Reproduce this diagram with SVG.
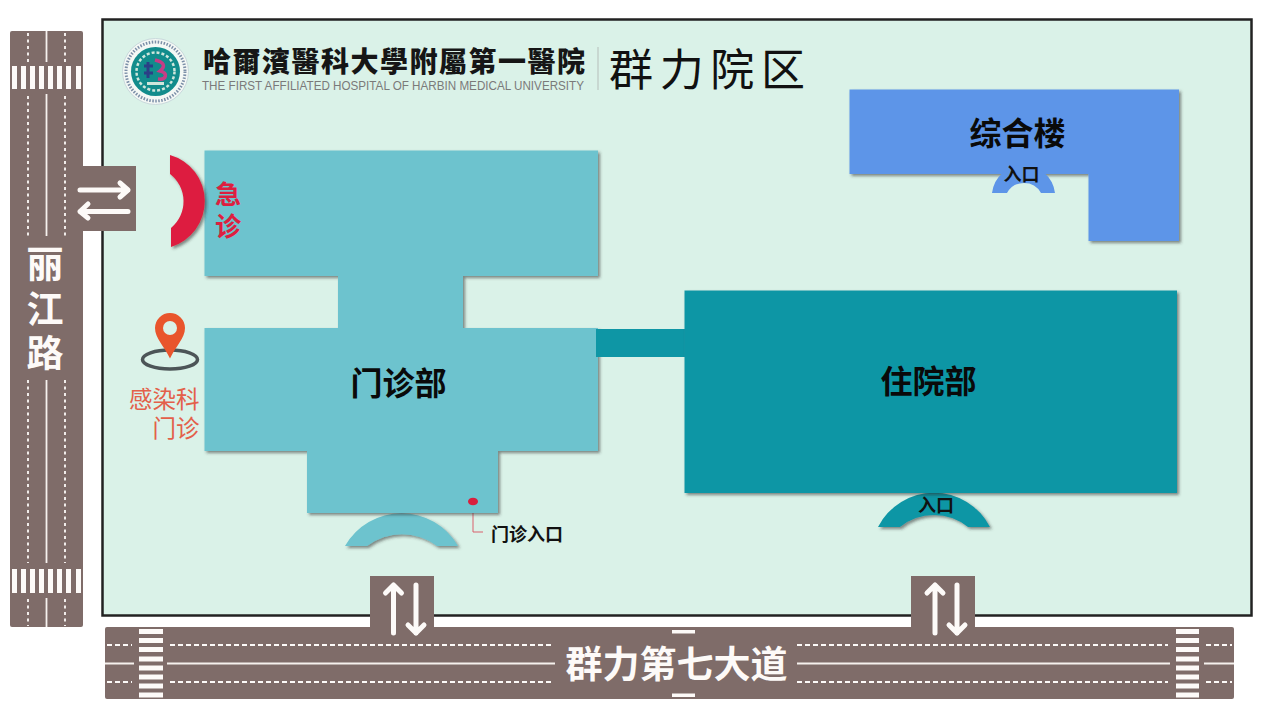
<svg xmlns="http://www.w3.org/2000/svg" width="1265" height="708" viewBox="0 0 1265 708">
<style>
.road{fill:#7F6C69}
.cw{fill:#FDFAF8}
.ctr{stroke:#F6F1EE;stroke-width:1.800;fill:none}
.dash{stroke:#FDFAF8;stroke-width:1.800;stroke-dasharray:5 3;fill:none}
.dot{stroke:#FDFAF8;stroke-width:1.800;stroke-dasharray:3 3.500;fill:none}
.arrow{stroke:#FDFAF8;stroke-width:5;fill:none;stroke-linecap:round;stroke-linejoin:round}
.t{font-family:"Liberation Sans","Noto Sans CJK SC",sans-serif;font-weight:700;text-anchor:middle}
.sc{font-family:"Noto Sans CJK SC",sans-serif}
.b1{fill:#6DC3CE}
.b2{fill:#0E96A5}
.b3{fill:#5D95E8}
.sh{filter:url(#shadow)}
</style>
<defs>
<filter id="shadow" x="-10%" y="-10%" width="120%" height="125%"><feDropShadow dx="2" dy="2" stdDeviation="1.600" flood-color="#333" flood-opacity="0.550"/></filter>
<marker id="open" markerWidth="10" markerHeight="10" refX="5" refY="1" orient="auto-start-reverse" markerUnits="userSpaceOnUse" viewBox="0 0 10 10"><path d="M1 7L5 1L9 7" fill="none" stroke="#D9606C" stroke-width="1"/></marker>
</defs>
<rect width="1265" height="708" fill="#fff"/>
<rect id="site" x="102.500" y="19.500" width="1149" height="596" fill="#DAF2E8" stroke="#222" stroke-width="2.500"/>

<g id="road-lijiang">
<rect class="road" x="10" y="31" width="73" height="596" rx="2"/>
<rect class="road" x="80" y="166" width="56" height="65"/>
<g class="ctr"><path d="M46.500 31V62M46.500 94V236M46.500 380V563M46.500 598V627"/></g>
<g class="dot"><path d="M28 33V62M65 33V62M28 96V236M65 96V236M28 380V563M65 380V563M28 599V626M65 599V626"/></g>
<g class="cw"><rect x="12" y="66" width="5" height="23"/><rect x="21" y="66" width="5" height="23"/><rect x="30" y="66" width="5" height="23"/><rect x="39" y="66" width="5" height="23"/><rect x="48" y="66" width="5" height="23"/><rect x="57" y="66" width="5" height="23"/><rect x="66" y="66" width="5" height="23"/><rect x="76" y="66" width="5" height="23"/>
<rect x="12" y="569" width="5" height="24"/><rect x="21" y="569" width="5" height="24"/><rect x="30" y="569" width="5" height="24"/><rect x="39" y="569" width="5" height="24"/><rect x="48" y="569" width="5" height="24"/><rect x="57" y="569" width="5" height="24"/><rect x="66" y="569" width="5" height="24"/><rect x="76" y="569" width="5" height="24"/></g>
<path class="arrow" d="M80 190H128M120 183L128 190L120 197"/>
<path class="arrow" d="M128 211.500H80M88 204L80 211.500L88 218"/>
<rect class="road" x="24" y="240" width="43" height="138"/>
<text class="t" x="45" y="278" font-size="37" fill="#FDFAF8">丽</text>
<text class="t" x="45" y="323" font-size="37" fill="#FDFAF8">江</text>
<text class="t" x="45" y="367" font-size="37" fill="#FDFAF8">路</text>
</g>

<g id="road-qunli">
<rect class="road" x="105" y="627" width="1129" height="72" rx="2"/>
<rect class="road" x="370" y="576" width="64" height="52"/>
<rect class="road" x="911" y="576" width="64" height="52"/>
<g class="ctr"><path d="M105 663.500H134M167 663.500H555M797 663.500H1170M1204 663.500H1234"/></g>
<g class="dash"><path d="M107 645H132M170 645H554M797 645H1168M1206 645H1232M107 682H132M170 682H554M797 682H1168M1206 682H1232"/></g>
<g class="cw">
<rect x="139" y="629" width="24" height="5"/><rect x="139" y="638" width="24" height="5"/><rect x="139" y="647" width="24" height="5"/><rect x="139" y="656.500" width="24" height="5"/><rect x="139" y="665.500" width="24" height="5"/><rect x="139" y="674.500" width="24" height="5"/><rect x="139" y="683.500" width="24" height="5"/><rect x="139" y="692.500" width="24" height="5"/>
<rect x="1176" y="629" width="23" height="5"/><rect x="1176" y="638" width="23" height="5"/><rect x="1176" y="647" width="23" height="5"/><rect x="1176" y="656.500" width="23" height="5"/><rect x="1176" y="665.500" width="23" height="5"/><rect x="1176" y="674.500" width="23" height="5"/><rect x="1176" y="683.500" width="23" height="5"/><rect x="1176" y="692.500" width="23" height="5"/>
<rect x="672" y="630" width="23" height="3.500"/><rect x="672" y="693.500" width="23" height="3.500"/>
</g>
<path class="arrow" d="M393.500 633V585M385.500 593L393.500 585L401.500 593"/>
<path class="arrow" d="M416 585V633M408 625L416 633L424 625"/>
<path class="arrow" d="M935 633V585M927 593L935 585L943 593"/>
<path class="arrow" d="M957 585V633M949 625L957 633L965 625"/>
<text class="t" x="676.500" y="678" font-size="37" fill="#FDFAF8">群力第七大道</text>
</g>

<g id="logo">
<circle cx="155.500" cy="71.500" r="33" fill="#F4F8F5" stroke="#C9D9DC" stroke-width="1"/>
<circle cx="155.500" cy="71.500" r="29.500" fill="none" stroke="#7C8FA8" stroke-width="3" stroke-dasharray="1.500 1.500"/>
<circle cx="155.500" cy="71.500" r="24.500" fill="#128C8C"/>
<circle cx="155.500" cy="71.500" r="19" fill="none" stroke="#CFE6DC" stroke-width="2.500" stroke-dasharray="3 2"/>
<path d="M148 62V78M144 66H153M144 73H153" stroke="#2B3F86" stroke-width="3" fill="none"/>
<path d="M155 60C164 62 166 66 160 71C168 73 167 80 158 79" stroke="#C63D86" stroke-width="3.500" fill="none"/>
<rect x="147" y="82" width="17" height="3" fill="#CFE6DC"/>
</g>

<g id="title">
<text x="203" y="72" font-family="'Noto Sans CJK TC',sans-serif" font-weight="900" font-size="28" textLength="382" lengthAdjust="spacing" fill="#161616">哈爾濱醫科大學附屬第一醫院</text>
<text x="202" y="90" font-family="'Liberation Sans',sans-serif" font-size="12.500" textLength="382" lengthAdjust="spacingAndGlyphs" fill="#7A7A7A">THE FIRST AFFILIATED HOSPITAL OF HARBIN MEDICAL UNIVERSITY</text>
<rect x="597.500" y="47" width="1" height="43" fill="#B5BDB9"/>
<text x="609" y="86" class="sc" font-size="44" textLength="196" lengthAdjust="spacing" fill="#111">群力院区</text>
</g>

<g id="connectors">
<path d="M473 508V532H483" fill="none" stroke="#D9606C" stroke-width="1" marker-start="url(#open)"/>
</g>

<g id="entrance-outpatient"><path class="b1 sh" d="M345 546A65 65 0 0 1 458 546H437A58 58 0 0 0 367 546Z"/></g>
<g id="outpatient">
<path class="b1 sh" d="M204.500 150.500H598V276H463V328H598V451H498V513H307V451H204.500V328H338V276H204.500Z"/>
<text class="t" x="398.500" y="395" font-size="32" fill="#0A0A0A">门诊部</text>
</g>
<g id="outpatient-door">
<ellipse cx="473" cy="501.500" rx="5" ry="3.800" fill="#D81F3E"/>
<text class="t" x="527" y="541" font-size="18" fill="#111">门诊入口</text>
</g>
<g id="emergency">
<path d="M170 155A48 48 0 0 1 171 247V228A34.500 34.500 0 0 0 170 174Z" fill="#DD1F3F" class="sh"/>
<text class="t" x="228" y="204" font-size="26" fill="#DD1F3F">急</text>
<text class="t" x="228" y="236" font-size="26" fill="#DD1F3F">诊</text>
</g>
<g id="infection">
<ellipse cx="170" cy="359.500" rx="27.500" ry="9.500" fill="none" stroke="#4C5557" stroke-width="3.500"/>
<path d="M170 358.500C164 346 155 338 155 328A15 15 0 0 1 185 328C185 338 176 346 170 358.500Z" fill="#E9552C"/>
<circle cx="170" cy="328" r="7" fill="#DAF2E8"/>
<text class="sc" text-anchor="end" font-size="23.500" fill="#E3604A"><tspan x="199.500" y="407.500">感染科</tspan><tspan x="199.500" y="436.500">门诊</tspan></text>
</g>
<g id="link"><rect class="b2" x="596" y="329" width="90" height="28"/></g>
<g id="entrance-inpatient"><path class="b2 sh" d="M878 527A63 63 0 0 1 990 527H968A54 54 0 0 0 900 527Z"/>
<text class="t" x="936" y="512" font-size="18" fill="#111">入口</text></g>
<g id="inpatient">
<rect class="b2 sh" x="684.500" y="290.500" width="492.500" height="202.500"/>
<text class="t" x="928.500" y="393" font-size="32" fill="#0A0A0A">住院部</text>
</g>
<g id="general">
<path class="b3 sh" d="M849.500 89.500H1179V241H1088.500V174H849.500Z"/>
<path class="b3" d="M992 193A31.700 31.700 0 0 1 1055 193H1041A19.500 19.500 0 0 0 1007 193Z"/>
<text class="t" x="1017.500" y="145" font-size="32" fill="#0A0A0A">综合楼</text>
<text class="t" x="1021.500" y="181" font-size="18" fill="#111">入口</text>
</g>
</svg>
